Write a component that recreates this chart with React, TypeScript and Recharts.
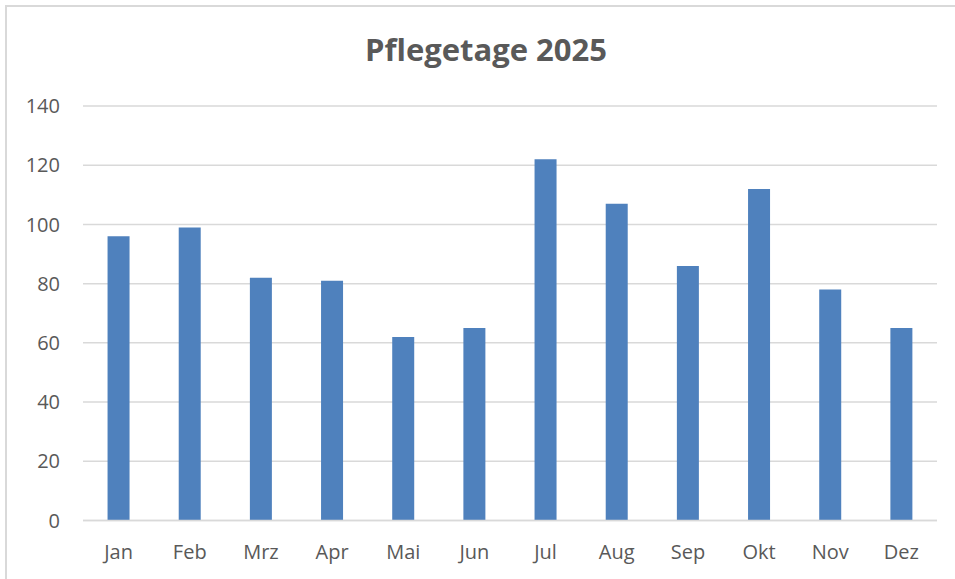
import React from "react";
import { BarChart, Bar, XAxis, YAxis, CartesianGrid } from "recharts";

const months = ["Jan", "Feb", "Mrz", "Apr", "Mai", "Jun", "Jul", "Aug", "Sep", "Okt", "Nov", "Dez"];
const pflegetage = [96, 99, 82, 81, 62, 65, 122, 107, 86, 112, 78, 65];
const yTicks = [0, 20, 40, 60, 80, 100, 120, 140];

const data = months.map((m, i) => ({ month: m, value: pflegetage[i] }));

const FONT = "'Open Sans', 'Noto Sans', sans-serif";

export default function App() {
  return (
    <div style={{ position: "fixed", left: 0, top: 0, width: 955, height: 579, overflow: "hidden", background: "#fff" }}>
      <div
        style={{
          position: "absolute",
          left: 0,
          width: 972,
          top: 27,
          textAlign: "center",
          fontFamily: FONT,
          fontWeight: 700,
          fontSize: 31,
          color: "#595959",
          lineHeight: "44px",
        }}
      >
        Pflegetage 2025
      </div>
      <div style={{ position: "absolute", left: 0, top: 0 }}>
        <BarChart
          width={955}
          height={579}
          data={data}
          margin={{ top: 106, right: 18, bottom: 0, left: 0 }}
          barCategoryGap="34.5%"
        >
          <CartesianGrid vertical={false} stroke="#d9d9d9" strokeWidth={1.5} />
          <XAxis
            dataKey="month"
            height={58.5}
            axisLine={{ stroke: "#d9d9d9", strokeWidth: 1.5 }}
            tickLine={false}
            tickSize={0}
            tickMargin={24}
            tick={{ fill: "#595959", fontSize: 20, fontFamily: FONT }}
            interval={0}
          />
          <YAxis
            width={83}
            domain={[0, 140]}
            ticks={yTicks}
            axisLine={false}
            tickLine={false}
            tickSize={0}
            tickMargin={23}
            tick={{ fill: "#595959", fontSize: 20, fontFamily: FONT }}
          />
          <Bar dataKey="value" fill="#4f81bd" isAnimationActive={false} />
        </BarChart>
      </div>
      <div
        style={{
          position: "absolute",
          left: 5,
          top: 5,
          width: 980,
          height: 600,
          border: "2px solid #d9d9d9",
          boxSizing: "border-box",
          pointerEvents: "none",
        }}
      />
    </div>
  );
}
